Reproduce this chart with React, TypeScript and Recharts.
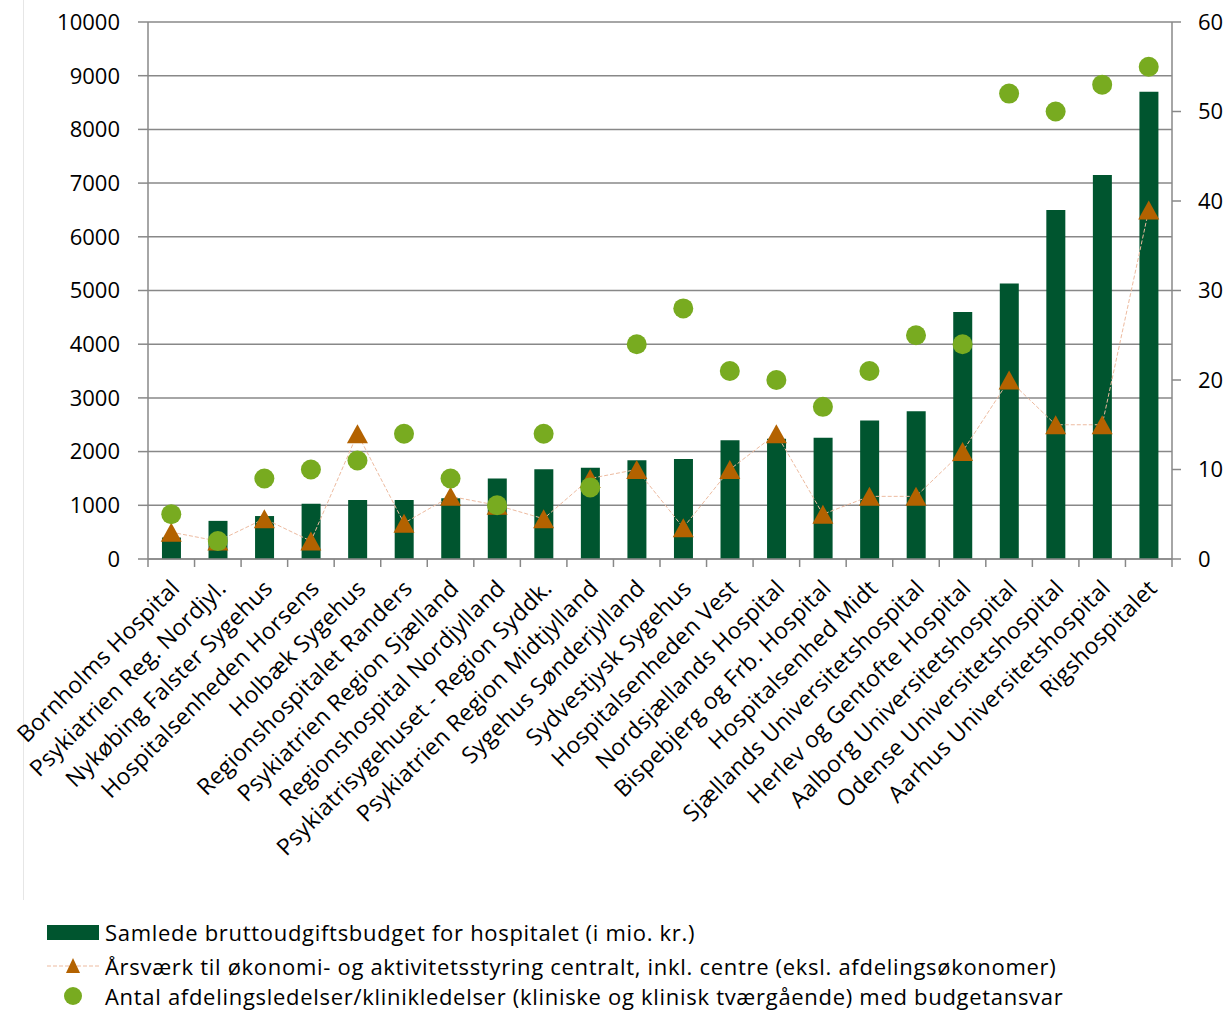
import React from "react";
import { ComposedChart, Bar, Line, XAxis, YAxis, CartesianGrid } from "recharts";

const categories = [
  "Bornholms Hospital",
  "Psykiatrien Reg. Nordjyl.",
  "Nykøbing Falster Sygehus",
  "Hospitalsenheden Horsens",
  "Holbæk Sygehus",
  "Regionshospitalet Randers",
  "Psykiatrien Region Sjælland",
  "Regionshospital Nordjylland",
  "Psykiatrisygehuset - Region Syddk.",
  "Psykiatrien Region Midtjylland",
  "Sygehus Sønderjylland",
  "Sydvestjysk Sygehus",
  "Hospitalsenheden Vest",
  "Nordsjællands Hospital",
  "Bispebjerg og Frb. Hospital",
  "Hospitalsenhed Midt",
  "Sjællands Universitetshospital",
  "Herlev og Gentofte Hospital",
  "Aalborg Universitetshospital",
  "Odense Universitetshospital",
  "Aarhus Universitetshospital",
  "Rigshospitalet",
];

const budget = [400, 710, 800, 1030, 1100, 1100, 1130, 1500, 1670, 1700, 1840, 1860, 2210, 2240, 2260, 2580, 2750, 4600, 5130, 6500, 7150, 8700];
const aarsvaerk = [3, 2, 4.5, 2, 14, 4, 7, 6, 4.5, 9, 10, 3.5, 10, 14, 5, 7, 7, 12, 20, 15, 15, 39];
const ledelser = [5, 2, 9, 10, 11, 14, 9, 6, 14, 8, 24, 28, 21, 20, 17, 21, 25, 24, 52, 50, 53, 55];

const leftTicks = [0, 1000, 2000, 3000, 4000, 5000, 6000, 7000, 8000, 9000, 10000];
const rightTicks = [0, 10, 20, 30, 40, 50, 60];

const legendLabels = [
  "Samlede bruttoudgiftsbudget for hospitalet (i mio. kr.)",
  "Årsværk til økonomi- og aktivitetsstyring centralt, inkl. centre (eksl. afdelingsøkonomer)",
  "Antal afdelingsledelser/klinikledelser (kliniske og klinisk tværgående) med budgetansvar",
];

const data = categories.map((name, i) => ({
  name,
  budget: budget[i],
  aarsvaerk: aarsvaerk[i],
  ledelser: ledelser[i],
}));

const FONT = "'Open Sans', Lato, sans-serif";
const BAR_COLOR = "#00552F";
const TRI_COLOR = "#B36200";
const DOT_COLOR = "#78AB20";
const GRID = "#888888";
const LINE_COLOR = "#EDBBA0";

const Triangle = (props: any) => {
  const { cx, cy } = props;
  if (cx == null || cy == null) return null;
  return (
    <path
      d={`M${cx},${cy - 9.5} L${cx + 10.5},${cy + 9.5} L${cx - 10.5},${cy + 9.5} Z`}
      fill={TRI_COLOR}
    />
  );
};

const Circle = (props: any) => {
  const { cx, cy } = props;
  if (cx == null || cy == null) return null;
  return <circle cx={cx} cy={cy} r={10} fill={DOT_COLOR} />;
};

const XTick = (props: any) => {
  const { x, y, payload, index } = props;
  const off = payload && payload.offset != null ? payload.offset : 0;
  const ax = x - 2;
  const ay = y + 19;
  return (
    <g>
      <line x1={x - off} y1={y} x2={x - off} y2={y + 8} stroke={GRID} strokeWidth={1.5} />
      {index === categories.length - 1 && (
        <line x1={x + off} y1={y} x2={x + off} y2={y + 8} stroke={GRID} strokeWidth={1.5} />
      )}
      <text
        x={ax}
        y={ay}
        transform={`rotate(-45, ${ax}, ${ay})`}
        textAnchor="end"
        dy="0.72em"
        fontSize={23}
        letterSpacing={0.3}
        fontFamily={FONT}
        fill="#000"
      >
        {payload.value}
      </text>
    </g>
  );
};

const legendCenters = [932, 966, 996];

export default function App() {
  return (
    <div style={{ position: "absolute", left: 0, top: 0, width: 1227, height: 1013, background: "#fff", fontFamily: FONT }}>
      <div style={{ position: "absolute", left: 23, top: 0, width: 1, height: 900, background: "#E6E6E6" }} />
      <ComposedChart
        width={1227}
        height={900}
        data={data}
        margin={{ top: 22, right: 0, bottom: 0, left: 0 }}
        barCategoryGap="30%"
      >
        <CartesianGrid vertical={false} stroke={GRID} strokeWidth={1.5} yAxisId="left" />
        <XAxis
          dataKey="name"
          xAxisId={0}
          height={341}
          interval={0}
          tick={<XTick />}
          tickLine={false}
          tickSize={0}
          tickMargin={0}
          axisLine={{ stroke: GRID, strokeWidth: 1.5 }}
        />
        <YAxis
          yAxisId="left"
          orientation="left"
          width={148}
          domain={[0, 10000]}
          ticks={leftTicks}
          interval={0}
          tickSize={10}
          tickMargin={18}
          axisLine={{ stroke: GRID, strokeWidth: 1.5 }}
          tickLine={{ stroke: GRID, strokeWidth: 1.5 }}
          tick={{ fill: "#000", fontSize: 22, fontFamily: FONT }}
        />
        <YAxis
          yAxisId="right"
          orientation="right"
          width={55}
          domain={[0, 60]}
          ticks={rightTicks}
          interval={0}
          tickSize={9}
          tickMargin={17}
          axisLine={{ stroke: GRID, strokeWidth: 1.5 }}
          tickLine={{ stroke: GRID, strokeWidth: 1.5 }}
          tick={{ fill: "#000", fontSize: 22, fontFamily: FONT, textAnchor: "start" }}
        />
        <Bar yAxisId="left" dataKey="budget" fill={BAR_COLOR} isAnimationActive={false} />
        <Line
          yAxisId="right"
          dataKey="aarsvaerk"
          stroke={LINE_COLOR}
          strokeWidth={1}
          strokeDasharray="4 2"
          dot={<Triangle />}
          activeDot={false}
          isAnimationActive={false}
        />
        <Line
          yAxisId="right"
          dataKey="ledelser"
          stroke="none"
          dot={<Circle />}
          activeDot={false}
          isAnimationActive={false}
        />
      </ComposedChart>
      {legendLabels.map((label, i) => (
        <div key={i} style={{ position: "absolute", left: 0, top: legendCenters[i] - 12, height: 24, width: 1227 }}>
          <svg width={104} height={24} style={{ position: "absolute", left: 0, top: 0 }}>
            {i === 0 && <rect x={47} y={5} width={52} height={15} fill={BAR_COLOR} />}
            {i === 1 && (
              <g>
                <line x1={47} y1={12} x2={99} y2={12} stroke={LINE_COLOR} strokeWidth={1} strokeDasharray="4 2" />
                <path d="M73,4 L80,19 L66,19 Z" fill={TRI_COLOR} />
              </g>
            )}
            {i === 2 && <circle cx={73} cy={12} r={9} fill={DOT_COLOR} />}
          </svg>
          <span
            style={{
              position: "absolute",
              left: 105,
              top: 0,
              height: 24,
              lineHeight: "24px",
              fontSize: 22,
              letterSpacing: "0.7px",
              fontFamily: FONT,
              color: "#000",
              whiteSpace: "nowrap",
            }}
          >
            {label}
          </span>
        </div>
      ))}
    </div>
  );
}
